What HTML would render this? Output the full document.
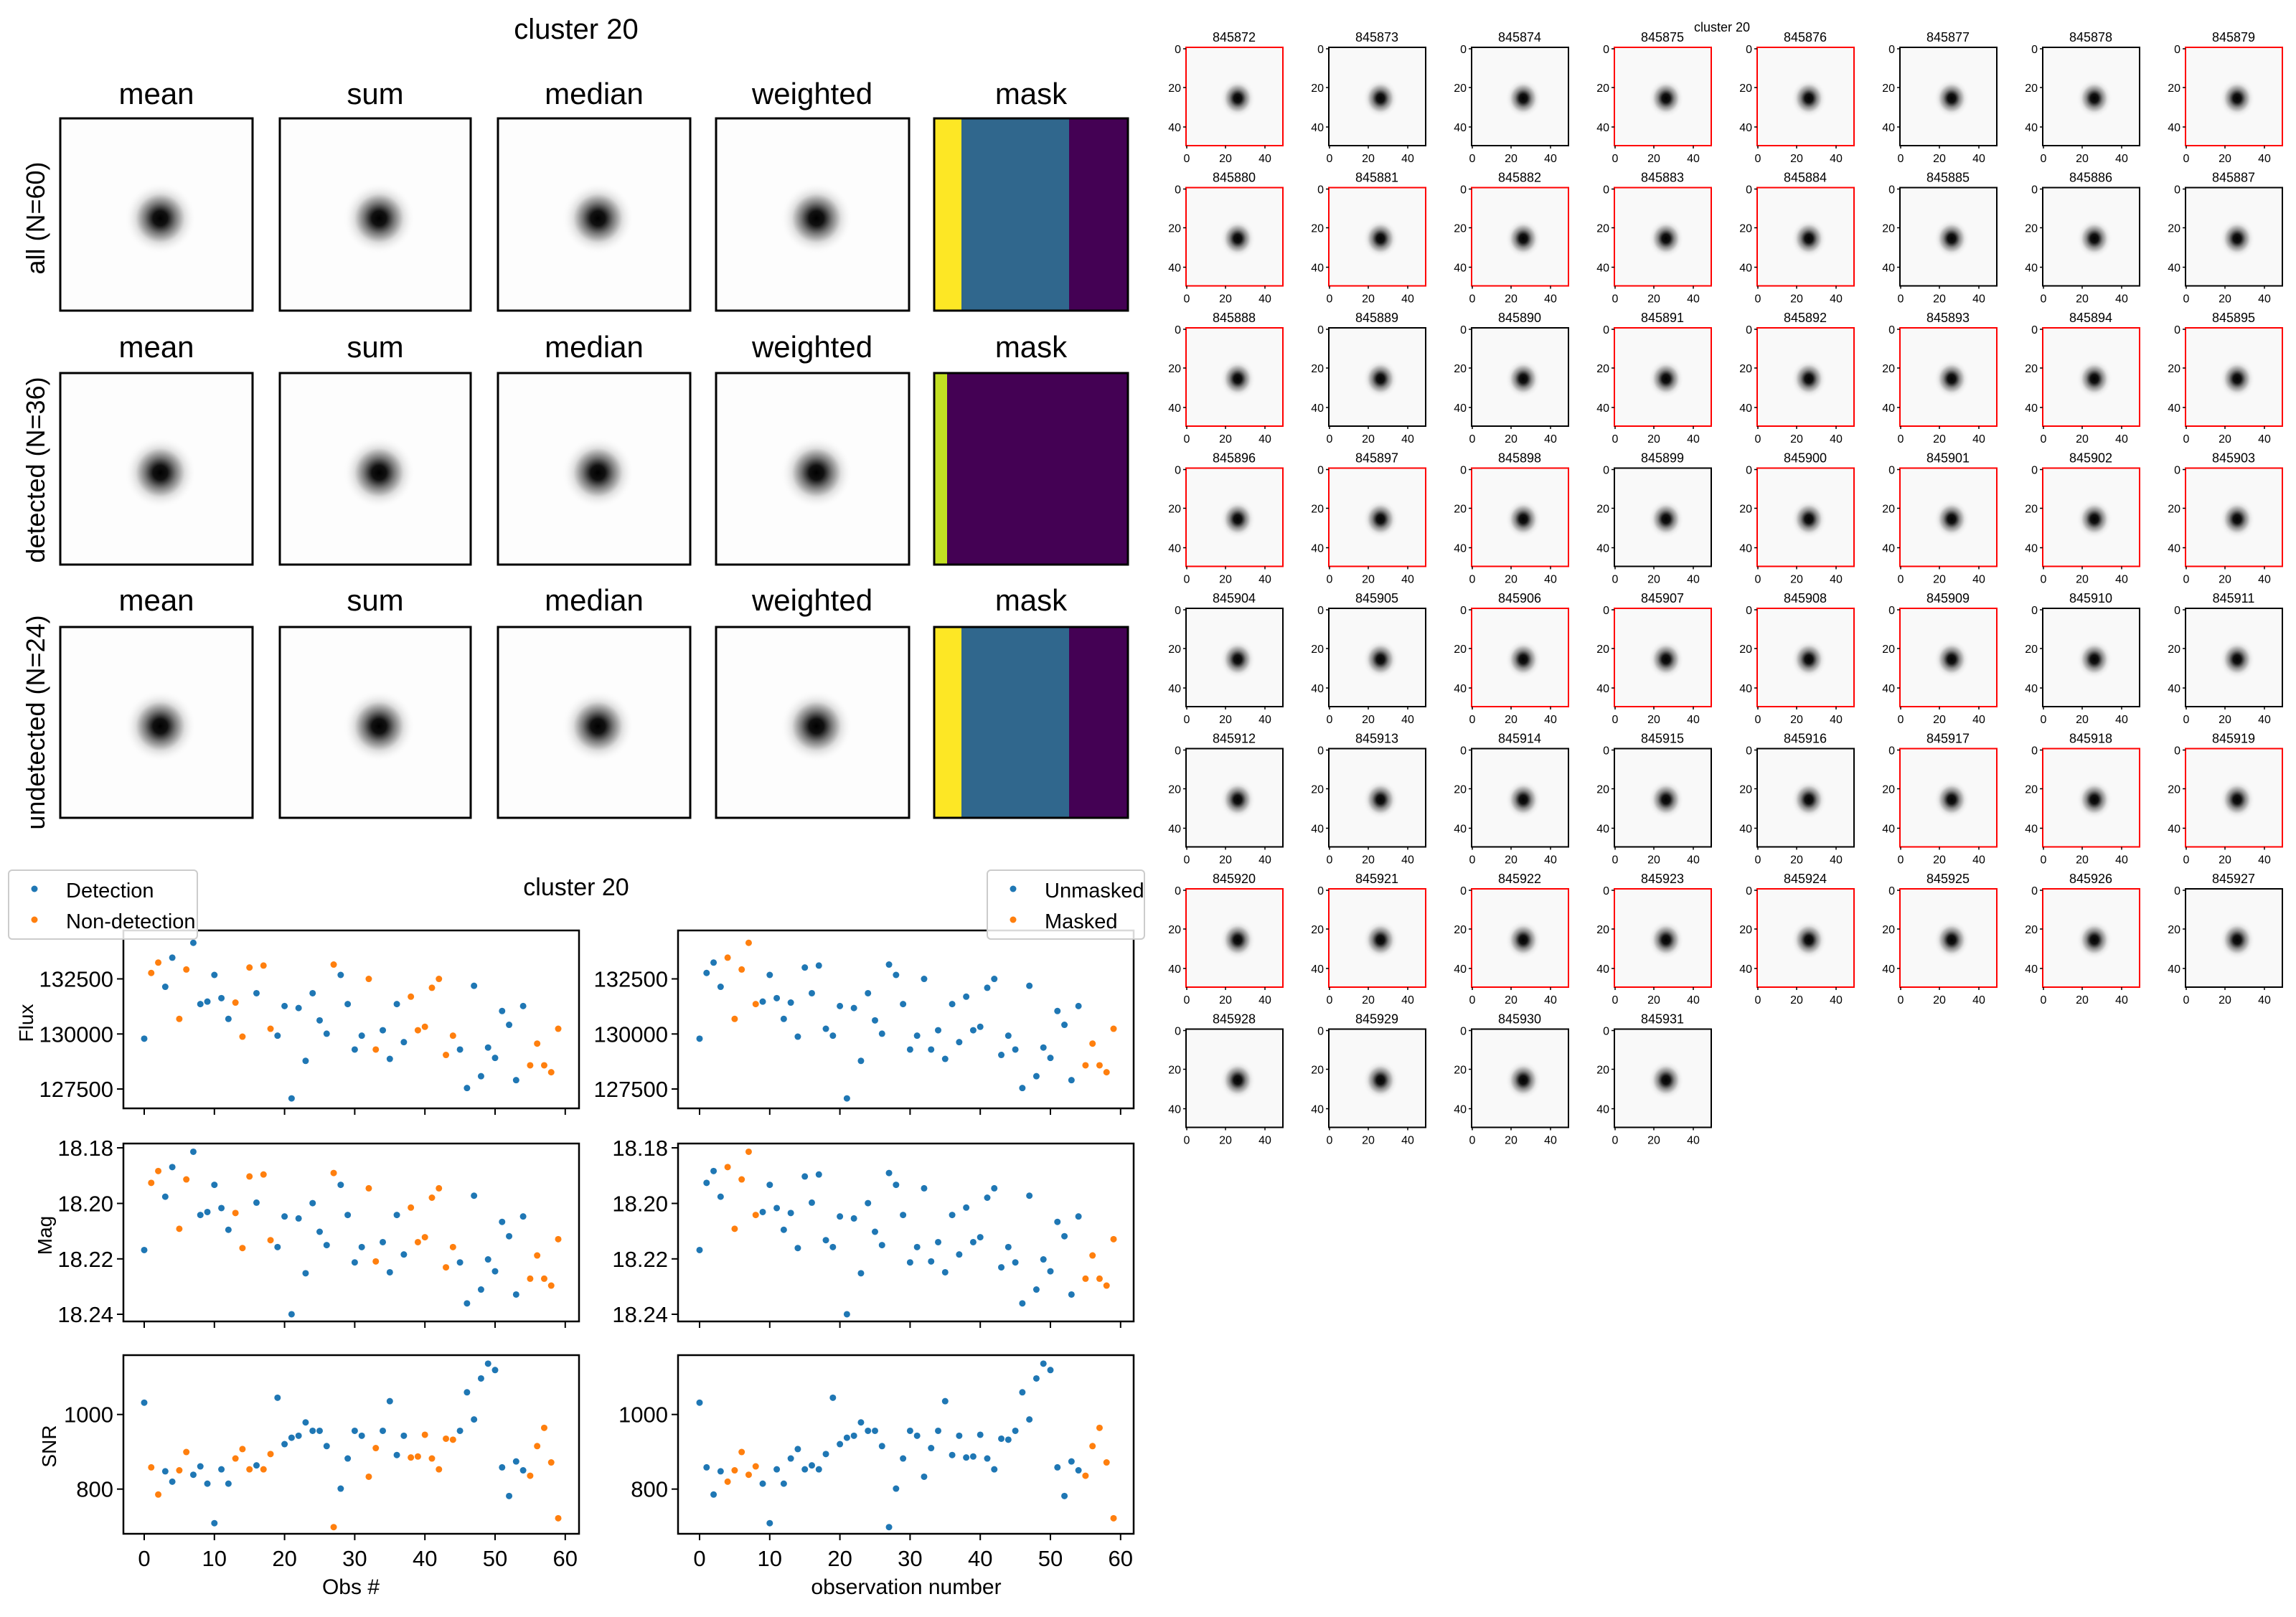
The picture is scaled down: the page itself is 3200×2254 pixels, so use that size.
<!DOCTYPE html>
<html><head><meta charset="utf-8"><style>
html,body{margin:0;padding:0;background:#fff;}
svg{display:block;}
text{font-family:"Liberation Sans","DejaVu Sans",sans-serif;fill:#000;}
</style></head><body>
<svg id="s" width="3200" height="2254" viewBox="0 0 3200 2254" xmlns="http://www.w3.org/2000/svg">
<defs>
<radialGradient id="big" cx="0.5" cy="0.5" r="0.5">
<stop offset="0" stop-color="#000"/><stop offset="0.2" stop-color="#111"/><stop offset="0.42" stop-color="#777"/><stop offset="0.68" stop-color="#ddd"/><stop offset="1" stop-color="#fdfdfd" stop-opacity="0"/>
</radialGradient>
<radialGradient id="sm" cx="0.5" cy="0.5" r="0.5">
<stop offset="0" stop-color="#000"/><stop offset="0.22" stop-color="#111"/><stop offset="0.45" stop-color="#888"/><stop offset="0.72" stop-color="#e4e4e4"/><stop offset="1" stop-color="#f9f9f9" stop-opacity="0"/>
</radialGradient>
</defs>
<text x="803" y="54" font-size="40" text-anchor="middle">cluster 20</text>
<g font-size="42" text-anchor="middle">
<text x="218" y="145">mean</text><text x="523" y="145">sum</text><text x="828" y="145">median</text><text x="1132" y="145">weighted</text><text x="1437" y="145">mask</text>
<text x="218" y="498">mean</text><text x="523" y="498">sum</text><text x="828" y="498">median</text><text x="1132" y="498">weighted</text><text x="1437" y="498">mask</text>
<text x="218" y="851">mean</text><text x="523" y="851">sum</text><text x="828" y="851">median</text><text x="1132" y="851">weighted</text><text x="1437" y="851">mask</text>
</g>
<g font-size="36" font-family="DejaVu Sans" text-anchor="middle">
<text transform="translate(62,304) rotate(-90)">all (N=60)</text>
<text transform="translate(62,655) rotate(-90)">detected (N=36)</text>
<text transform="translate(62,1007) rotate(-90)">undetected (N=24)</text>
</g>
<rect x="1302" y="165" width="38" height="268" fill="#fde725"/><rect x="1340" y="165" width="150" height="268" fill="#30678d"/><rect x="1490" y="165" width="82" height="268" fill="#440154"/>
<rect x="1302" y="520" width="18" height="267" fill="#c2df23"/><rect x="1320" y="520" width="252" height="267" fill="#440154"/>
<rect x="1302" y="874" width="38" height="266" fill="#fde725"/><rect x="1340" y="874" width="150" height="266" fill="#30678d"/><rect x="1490" y="874" width="82" height="266" fill="#440154"/>
<g id="topg"></g>
<g id="thumbs"></g>
<text x="2400" y="44" font-size="18" text-anchor="middle">cluster 20</text>
<text x="803" y="1248" font-size="34" text-anchor="middle">cluster 20</text>
<g id="bot"></g>
</svg>
<script>
(function(){
var NS="http://www.w3.org/2000/svg";
function el(p,t,a,txt){var e=document.createElementNS(NS,t);for(var k in a)e.setAttribute(k,a[k]);if(txt!==undefined)e.textContent=txt;p.appendChild(e);return e;}
var tg=document.getElementById('topg');
var cols=[[84,352],[390,656],[694,962],[998,1267]],rows=[[165,433],[520,787],[874,1140]];
rows.forEach(function(r){cols.forEach(function(c){
 el(tg,'rect',{x:c[0],y:r[0],width:c[1]-c[0],height:r[1]-r[0],fill:'#fdfdfd'});
 var cx=c[0]+(c[1]-c[0])*0.52,cy=r[0]+(r[1]-r[0])*0.52;
 el(tg,'circle',{cx:cx,cy:cy,r:50,fill:'url(#big)'});
 el(tg,'rect',{x:c[0],y:r[0],width:c[1]-c[0],height:r[1]-r[0],fill:'none',stroke:'#000','stroke-width':3});
});
 el(tg,'rect',{x:1302,y:r[0],width:270,height:r[1]-r[0],fill:'none',stroke:'#000','stroke-width':3});
});
var th=document.getElementById('thumbs');
var red=[1,0,0,1,1,0,0,1, 1,1,1,1,1,0,0,0, 1,0,0,1,1,1,1,1, 1,1,1,0,1,1,1,1, 0,0,1,1,1,1,0,0, 0,0,0,0,0,1,1,1, 1,1,1,1,1,1,1,0, 0,0,0,0];
for(var i=0;i<60;i++){
 var r=Math.floor(i/8),c=i%8;var x=1653+c*199,y=66+r*195.5,w=135,h=137;
 el(th,'rect',{x:x,y:y,width:w,height:h,fill:'#f9f9f9'});
 el(th,'ellipse',{cx:x+72,cy:y+71,rx:25,ry:27,fill:'url(#sm)'});
 el(th,'rect',{x:x,y:y,width:w,height:h,fill:'none',stroke:red[i]?'#ff0000':'#000','stroke-width':2});
 el(th,'text',{x:x+67,y:y-8,'font-size':18,'text-anchor':'middle'},String(845872+i));
 [[0,1],[20,55],[40,110]].forEach(function(t){
  el(th,'line',{x1:x+t[1],x2:x+t[1],y1:y+h,y2:y+h+4,stroke:'#000','stroke-width':1.5});
  el(th,'text',{x:x+t[1],y:y+h+23,'font-size':16,'text-anchor':'middle'},String(t[0]));
  el(th,'line',{x1:x-4,x2:x,y1:y+t[1]+1,y2:y+t[1]+1,stroke:'#000','stroke-width':1.5});
  el(th,'text',{x:x-7,y:y+t[1]+7,'font-size':16,'text-anchor':'end'},String(t[0]));
 });
}
var bot=document.getElementById('bot');
var B='#1f77b4',O='#ff7f0e';
var flux=[389,256,235,284,225,349,249,195,319,314,260,307,349,316,385,245,297,241,369,383,323,510,327,434,297,352,379,239,260,319,411,383,268,411,372,430,319,396,304,372,365,286,268,422,383,411,489,282,465,407,428,333,361,473,323,443,399,443,457,369];
var mag=[817,681,657,709,649,774,674,618,746,740,685,732,776,742,813,668,721,664,797,811,749,947,753,864,722,780,807,661,685,746,842,811,692,840,801,862,746,826,731,801,791,711,692,852,811,842,925,707,897,836,860,760,789,907,749,875,828,875,889,795];
var snr=[1126,1257,1312,1265,1286,1263,1226,1272,1255,1290,1370,1261,1290,1239,1220,1261,1253,1261,1230,1116,1210,1197,1193,1166,1183,1183,1214,1378,1300,1239,1183,1193,1276,1218,1183,1123,1232,1193,1237,1235,1191,1239,1261,1199,1201,1183,1105,1160,1077,1047,1060,1257,1315,1245,1263,1274,1214,1177,1247,1360];
var nd=[1,2,5,6,13,14,15,17,18,27,32,33,38,39,40,41,42,43,44,55,56,57,58,59];
function isNd(i){return nd.indexOf(i)>=0;}
function isM(i){return (i>=4&&i<=8)||i>=55;}
var px=[[172,807],[945,1580]],py=[[1297,1545],[1594,1842],[1889,2138]];
var data=[flux,mag,snr];
var yt=[[[1364.5,'132500'],[1441.3,'130000'],[1518,'127500']],[[1600,'18.18'],[1677.5,'18.20'],[1754.8,'18.22'],[1832,'18.24']],[[1971.7,'1000'],[2075.7,'800']]];
for(var p=0;p<2;p++){for(var q=0;q<3;q++){
 var X=px[p],Y=py[q];var x0=p?975:201;
 for(var i=0;i<60;i++){var col=p?(isM(i)?O:B):(isNd(i)?O:B);
  el(bot,'circle',{cx:x0+i*9.78,cy:1180+data[q][i]/1.4525,r:4.5,fill:col});}
 el(bot,'rect',{x:X[0],y:Y[0],width:X[1]-X[0],height:Y[1]-Y[0],fill:'none',stroke:'#000','stroke-width':2.5});
 for(var t=0;t<=6;t++){var tx=x0+t*97.8;el(bot,'line',{x1:tx,x2:tx,y1:Y[1],y2:Y[1]+9,stroke:'#000','stroke-width':2});
  if(q==2)el(bot,'text',{x:tx,y:2183,'font-size':31,'text-anchor':'middle'},String(t*10));}
 yt[q].forEach(function(t){el(bot,'line',{x1:X[0]-9,x2:X[0],y1:t[0],y2:t[0],stroke:'#000','stroke-width':2});
  el(bot,'text',{x:X[0]-14,y:t[0]+11,'font-size':31,'text-anchor':'end'},t[1]);});
}}
el(bot,'text',{x:489,y:2222,'font-size':30,'text-anchor':'middle'},'Obs #');
el(bot,'text',{x:1263,y:2222,'font-size':30,'text-anchor':'middle'},'observation number');
[['Flux',36,1426],['Mag',62,1722],['SNR',68,2016]].forEach(function(l){el(bot,'text',{transform:'translate('+(l[1]+10)+','+l[2]+') rotate(-90)','font-size':28,'text-anchor':'middle','font-family':'DejaVu Sans'},l[0]);});
function leg(x,w,a,b){el(bot,'rect',{x:x,y:1213,width:w,height:96,rx:5,fill:'#fff','fill-opacity':0.85,stroke:'#ccc','stroke-width':2});
 el(bot,'circle',{cx:x+36,cy:1239,r:4.5,fill:B});el(bot,'circle',{cx:x+36,cy:1282,r:4.5,fill:O});
 el(bot,'text',{x:x+80,y:1251,'font-size':29},a);el(bot,'text',{x:x+80,y:1294,'font-size':29},b);}
leg(12,263,'Detection','Non-detection');leg(1376,219,'Unmasked','Masked');
})();
</script>
</body></html>
